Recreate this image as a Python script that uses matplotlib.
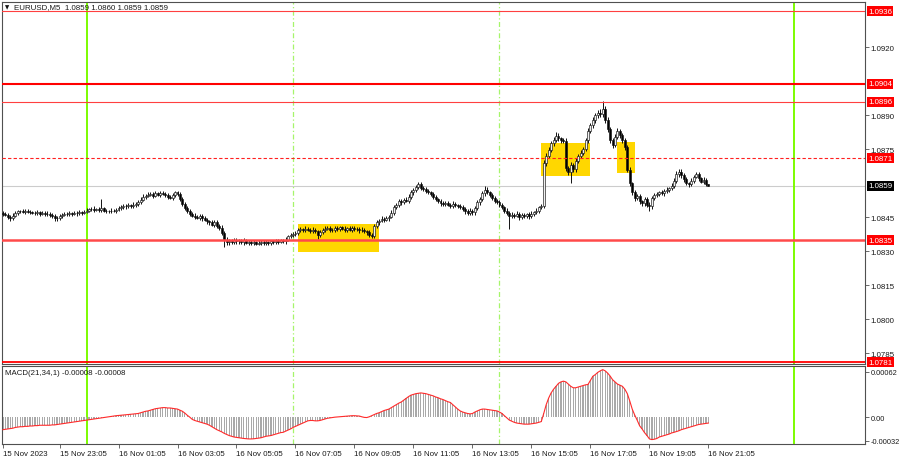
import matplotlib.pyplot as plt

# EURUSD M5, 15 Nov 21:10 .. 16 Nov 21:05 (288 bars)
# prices are in points (0.00001) above 1.08000
BASE = 1.08
PT = 0.00001

first_open = 470
closes = [
    466, 462, 452, 448, 458, 470, 476, 478, 475, 478, 474, 472,
    470, 468, 472, 466, 469, 464, 466, 460, 456, 448, 446, 455,
    462, 466, 464, 468, 466, 470, 468, 472, 470, 474, 480, 486,
    488, 484, 486, 482, 490, 480, 478, 476, 480, 478, 484, 490,
    496, 500, 498, 504, 500, 506, 510, 516, 528, 540, 546, 550,
    552, 546, 556, 550, 558, 554, 548, 540, 536, 548, 560, 552,
    530, 510, 492, 478, 466, 458, 452, 448, 456, 446, 440, 432,
    428, 418, 430, 412, 404, 380, 352, 340, 346, 342, 350, 344,
    346, 340, 348, 338, 342, 336, 340, 334, 338, 342, 336, 340,
    338, 344, 340, 346, 342, 348, 344, 352, 366, 372, 376, 380,
    392, 398, 394, 400, 396, 390, 396, 388, 372, 384, 394, 400,
    404, 396, 392, 402, 398, 406, 400, 394, 402, 396, 404, 398,
    400, 392, 396, 388, 384, 372, 366, 410, 428, 436, 444, 440,
    446, 452, 470, 496, 504, 520, 516, 528, 524, 540, 560, 572,
    584, 596, 580, 576, 566, 560, 552, 540, 530, 522, 512, 508,
    514, 506, 500, 510, 504, 498, 496, 488, 476, 470, 480, 472,
    490, 516, 530, 556, 572, 560, 548, 536, 522, 516, 504, 494,
    480, 470, 456, 462, 458, 466, 452, 460, 456, 464, 454, 466,
    472, 480, 494, 500, 690, 722, 748, 776, 792, 810, 798, 790,
    786, 668, 650, 680, 662, 700, 720, 736, 752, 790, 830, 856,
    880, 900, 912, 904, 930, 880, 840, 790, 770, 806, 830, 812,
    790, 760, 660, 600, 560, 536, 544, 520, 512, 530, 506, 498,
    536, 548, 552, 560, 556, 566, 572, 578, 590, 612, 640, 652,
    636, 618, 600, 596, 612, 630, 640, 622, 608, 616, 596, 590,
]
upper_wick = [
    7, 9, 6, 8, 11, 7, 8, 6, 10, 7, 8, 7,
    8, 7, 10, 6, 8, 7, 11, 6, 8, 7, 10, 8,
    7, 8, 6, 10, 7, 8, 6, 10, 7, 8, 10, 7,
    8, 10, 7, 8, 40, 7, 8, 6, 10, 7, 8, 10,
    8, 7, 10, 8, 7, 10, 8, 12, 10, 11, 8, 10,
    10, 8, 11, 7, 10, 8, 7, 10, 8, 10, 5, 8,
    10, 8, 7, 10, 8, 7, 10, 8, 7, 10, 8, 7,
    8, 10, 7, 8, 10, 12, 8, 10, 7, 8, 10, 8,
    8, 7, 10, 8, 7, 10, 8, 7, 10, 8, 7, 10,
    7, 8, 7, 10, 7, 8, 7, 10, 8, 7, 10, 8,
    10, 8, 7, 10, 8, 7, 10, 8, 7, 10, 8, 10,
    8, 10, 7, 8, 10, 7, 8, 10, 7, 8, 10, 7,
    8, 7, 10, 8, 7, 10, 8, 12, 10, 8, 10, 8,
    8, 10, 12, 10, 8, 11, 10, 8, 10, 11, 10, 8,
    10, 10, 10, 8, 10, 8, 7, 10, 8, 7, 10, 8,
    10, 8, 7, 10, 8, 7, 10, 8, 7, 10, 12, 8,
    10, 12, 10, 11, 16, 10, 8, 10, 8, 7, 10, 8,
    8, 10, 7, 10, 8, 10, 7, 8, 10, 7, 8, 10,
    8, 10, 8, 10, 12, 14, 12, 10, 12, 16, 10, 8,
    10, 12, 10, 12, 10, 11, 10, 12, 10, 11, 12, 10,
    12, 10, 12, 14, 33, 12, 14, 10, 12, 10, 12, 10,
    12, 10, 8, 10, 8, 10, 8, 10, 8, 10, 8, 10,
    10, 8, 10, 8, 10, 8, 10, 8, 10, 12, 14, 12,
    10, 8, 10, 8, 10, 8, 12, 10, 8, 10, 7, 1,
]
lower_wick = [
    8, 7, 10, 12, 8, 6, 8, 7, 6, 10, 7, 8,
    7, 8, 6, 10, 7, 8, 7, 10, 8, 12, 12, 6,
    8, 6, 10, 7, 8, 7, 10, 6, 8, 7, 6, 8,
    7, 10, 6, 8, 7, 8, 10, 7, 8, 6, 10, 7,
    8, 7, 10, 6, 8, 7, 10, 8, 7, 6, 8, 7,
    8, 10, 7, 8, 10, 7, 8, 10, 7, 8, 7, 10,
    8, 10, 8, 7, 10, 8, 10, 7, 8, 10, 8, 10,
    10, 8, 10, 8, 12, 10, 32, 12, 10, 8, 10, 12,
    10, 8, 10, 7, 12, 8, 10, 7, 8, 10, 7, 10,
    8, 10, 7, 8, 10, 7, 8, 10, 7, 8, 10, 8,
    8, 7, 10, 8, 7, 10, 8, 7, 17, 8, 7, 10,
    8, 10, 7, 8, 10, 7, 8, 10, 7, 8, 10, 7,
    8, 10, 7, 8, 10, 8, 8, 7, 8, 10, 8, 10,
    8, 10, 7, 8, 10, 8, 10, 7, 8, 10, 8, 10,
    10, 8, 10, 8, 10, 8, 10, 8, 10, 8, 10, 8,
    10, 8, 10, 8, 10, 8, 10, 8, 10, 8, 10, 12,
    10, 8, 10, 8, 10, 8, 10, 8, 10, 8, 10, 8,
    10, 8, 56, 8, 10, 8, 12, 8, 10, 8, 12, 8,
    10, 8, 10, 8, 10, 14, 12, 10, 12, 10, 12, 10,
    10, 12, 14, 50, 12, 10, 12, 10, 12, 10, 12, 10,
    10, 12, 10, 12, 12, 14, 12, 14, 12, 10, 12, 10,
    10, 12, 10, 12, 10, 12, 10, 12, 10, 12, 12, 20,
    12, 10, 8, 10, 8, 10, 8, 10, 8, 10, 12, 10,
    12, 10, 8, 10, 8, 10, 8, 10, 8, 10, 8, 0,
]
# MACD(21,34,1) main = signal, in units of 0.00001
macd = [
    -17, -16.5, -16, -15.5, -15, -14, -13.5, -13, -13, -12.5, -12.5, -12,
    -12, -11.5, -11.5, -11, -11, -11, -11, -11, -10.5, -10.5, -10, -9.5,
    -9, -8.5, -8, -7.5, -7, -6.5, -6, -5.5, -5, -4.5, -4, -3.5,
    -3, -2.5, -2, -1.5, -1, -0.5, 0, 0.5, 1, 1.5, 2, 2.3,
    2.6, 3, 3.3, 3.6, 4, 4.3, 4.6, 5, 6, 7, 8, 8.5,
    9.5, 10.5, 11.5, 12, 12.5, 13, 13, 12.5, 12.5, 12, 11.5, 11,
    9.5, 8, 5.5, 2.5, 0, -3, -4.5, -5.5, -6.5, -7.5, -8.5, -9.5,
    -11, -13, -15, -17, -18.5, -20, -22, -23.5, -25, -26, -27, -27.5,
    -28, -28.5, -29, -29.3, -29.6, -29.6, -29.4, -29, -28.5, -28, -27, -26,
    -25.5, -25, -24, -23, -22, -21, -20.6, -19, -17.5, -16, -14, -12.5,
    -11, -9.5, -8, -6.5, -5, -4.5, -4.5, -5, -5, -4.5, -3.5, -2.5,
    -1.5, -1, -0.5, 0, 0.3, 0.6, 1, 1.3, 1.6, 1.8, 2, 2,
    1.8, 1.5, 0.5, -0.3, -0.5, 0.5, 2, 3.5, 5, 6, 7.5, 9,
    10, 11, 13, 15, 17, 19, 20.6, 23, 25.5, 28, 30, 31,
    32, 32.5, 33, 32.5, 32, 31, 30, 29, 27.5, 26.5, 25, 24,
    22.5, 21, 20, 17, 14, 11, 8.5, 7, 6, 5, 4.5, 5,
    7, 8.5, 10, 11, 11, 10.5, 10, 9.5, 9, 8.5, 7, 5,
    2, -1, -4, -5.5, -7, -8, -8.5, -9, -9.5, -9.5, -9.5, -9,
    -8.5, -8, -7, -6, 5, 17, 26, 33, 38, 42, 46, 48,
    49, 48, 45, 42, 40, 40, 41, 42, 43, 44, 44.5, 50,
    55.7, 58, 61, 63, 64.7, 63, 60, 56, 51, 48, 45, 43.5,
    42, 38, 32, 22, 11, 3, -4, -11.7, -16, -21, -25, -29.6,
    -30.5, -30, -29, -27, -26, -25, -24, -23, -21.5, -20.6, -19.5, -18.5,
    -17, -16, -15, -14, -13, -12, -11, -10, -9.5, -9, -8.5, -8,
]

# horizontal levels drawn on the chart
level_prices = [1.0936, 1.0904, 1.0896, 1.0871, 1.0835, 1.0781]
level_labels = ['1.0936', '1.0904', '1.0896', '1.0871', '1.0835', '1.0781']
last_price = 1.0859

# yellow zones (bar index from/to, price low/high)
zone_start = [120, 219, 250]
zone_end = [153, 239, 257]
zone_low = [1.08297, 1.08632, 1.08647]
zone_high = [1.08421, 1.08778, 1.08784]

# vertical lines (bar index): day separators and session marks
day_lines = [34, 322]
session_lines = [118, 202]

tick_idx = [0, 23, 47, 71, 95, 119, 143, 167, 191, 215, 239, 263, 287]
tick_labels = ['15 Nov 2023', '15 Nov 23:05', '16 Nov 01:05', '16 Nov 03:05',
               '16 Nov 05:05', '16 Nov 07:05', '16 Nov 09:05', '16 Nov 11:05',
               '16 Nov 13:05', '16 Nov 15:05', '16 Nov 17:05', '16 Nov 19:05',
               '16 Nov 21:05']
price_ticks = [1.0920, 1.0890, 1.0875, 1.0845, 1.0830, 1.0815, 1.0800, 1.0785]
macd_ticks = [0.00062, 0.0, -0.00032]
macd_tick_labels = ['0.00062', '0.00', '-0.00032']

plt.rcParams['font.family'] = ['Liberation Sans', 'DejaVu Sans']
FS = 5.7
FRAME = '#505050'

fig = plt.figure(figsize=(9, 4.6), dpi=100)
ax = fig.add_axes([2 / 900, 1 - 365 / 460, 863 / 900, 362 / 460])
ax2 = fig.add_axes([2 / 900, 1 - 445 / 460, 863 / 900, 78.5 / 460])

n = len(closes)
xs = list(range(n))
opens = [first_open] + closes[:-1]
o = [BASE + v * PT for v in opens]
c = [BASE + v * PT for v in closes]
hi = [max(a, b) + w * PT for a, b, w in zip(o, c, upper_wick)]
lo = [min(a, b) - w * PT for a, b, w in zip(o, c, lower_wick)]

# zones behind everything
for s, e, l, h in zip(zone_start, zone_end, zone_low, zone_high):
    ax.add_patch(plt.Rectangle((s, l), e - s, h - l, color='#ffd700', lw=0, zorder=1))

ax.axhline(last_price, color='#cccccc', lw=0.8, zorder=1.5)

# candles: white body = up, black body = down
ax.vlines(xs, lo, hi, color='#111111', lw=0.7, zorder=3)
body_col = ['#f0f0f0' if b >= a else 'black' for a, b in zip(o, c)]
heights = [max(abs(b - a), 0.3 * PT) for a, b in zip(o, c)]
bottoms = [min(a, b) for a, b in zip(o, c)]
ax.bar(xs, heights, bottom=bottoms, width=0.8, color=body_col,
       edgecolor='#111111', linewidth=0.45, zorder=3.5)

# red levels
lvl_style = [
    dict(color='#ff4040', lw=0.8, ls='-'),
    dict(color='#ff0000', lw=1.5, ls='-'),
    dict(color='#ff4040', lw=0.8, ls='-'),
    dict(color='#ff2020', lw=0.8, ls=(0, (3, 2))),
    dict(color='#ff4a4a', lw=1.8, ls='-'),
    dict(color='#ff0000', lw=1.3, ls='-'),
]
for p, st in zip(level_prices, lvl_style):
    ax.axhline(p, zorder=4, **st)

for a in (ax, ax2):
    for v in day_lines:
        a.axvline(v, color='#7cfc00', lw=1.4, zorder=2)
    for v in session_lines:
        a.axvline(v, color='#a6f56a', lw=0.9, ls=(0, (4, 2, 1, 2)), zorder=2)
    a.set_xlim(-0.4, 350.7)
    for sp in a.spines.values():
        sp.set_color(FRAME)
        sp.set_linewidth(0.8)
    a.yaxis.tick_right()
    a.tick_params(axis='y', length=3, width=0.6, color=FRAME, labelsize=FS,
                  labelcolor='#1a1a1a', pad=1.0)

ax.set_ylim(1.07803, 1.09400)
ax.set_yticks(price_ticks)
ax.set_yticklabels(['%.4f' % t for t in price_ticks])
ax.set_xticks([])

# price labels on the right scale
ytr = ax.get_yaxis_transform()
for p, lab in zip(level_prices, level_labels):
    ax.text(1.0035, p, lab, transform=ytr, ha='left', va='center', fontsize=FS,
            color='white', zorder=10, clip_on=False,
            bbox=dict(boxstyle='square,pad=0.18', fc='#ff0000', ec='none'))
ax.text(1.0035, last_price, '%.4f' % last_price, transform=ytr, ha='left',
        va='center', fontsize=FS, color='white', zorder=10, clip_on=False,
        bbox=dict(boxstyle='square,pad=0.18', fc='black', ec='none'))

ax.text(0.004, 0.988, '\u25bc', transform=ax.transAxes, fontsize=4,
        va='center', ha='left', color='#111111', family='DejaVu Sans')
ax.text(0.0135, 0.988, 'EURUSD,M5  1.0859 1.0860 1.0859 1.0859',
        transform=ax.transAxes, fontsize=FS, va='center', ha='left', color='#1a1a1a')

# MACD panel
hist = [v * PT for v in macd]
ax2.bar(xs, hist, width=0.5, color='#a9a9a9', lw=0, zorder=2.5)
ax2.plot(xs, hist, color='#ff2a2a', lw=0.8, zorder=3)
ax2.set_ylim(-0.000365, 0.000703)
ax2.set_yticks(macd_ticks)
ax2.set_yticklabels(macd_tick_labels)
ax2.tick_params(axis='y', labelsize=5.3)
ax2.text(0.003, 0.91, 'MACD(21,34,1) -0.00008 -0.00008', transform=ax2.transAxes,
         fontsize=FS, va='center', ha='left', color='#1a1a1a')

ax2.set_xticks(tick_idx)
ax2.set_xticklabels(tick_labels)
ax2.tick_params(axis='x', length=3, width=0.6, color=FRAME, labelsize=FS,
                labelcolor='#1a1a1a', pad=1.5)
for lab in ax2.get_xticklabels():
    lab.set_horizontalalignment('left')

fig.savefig('out.png', dpi=100)
